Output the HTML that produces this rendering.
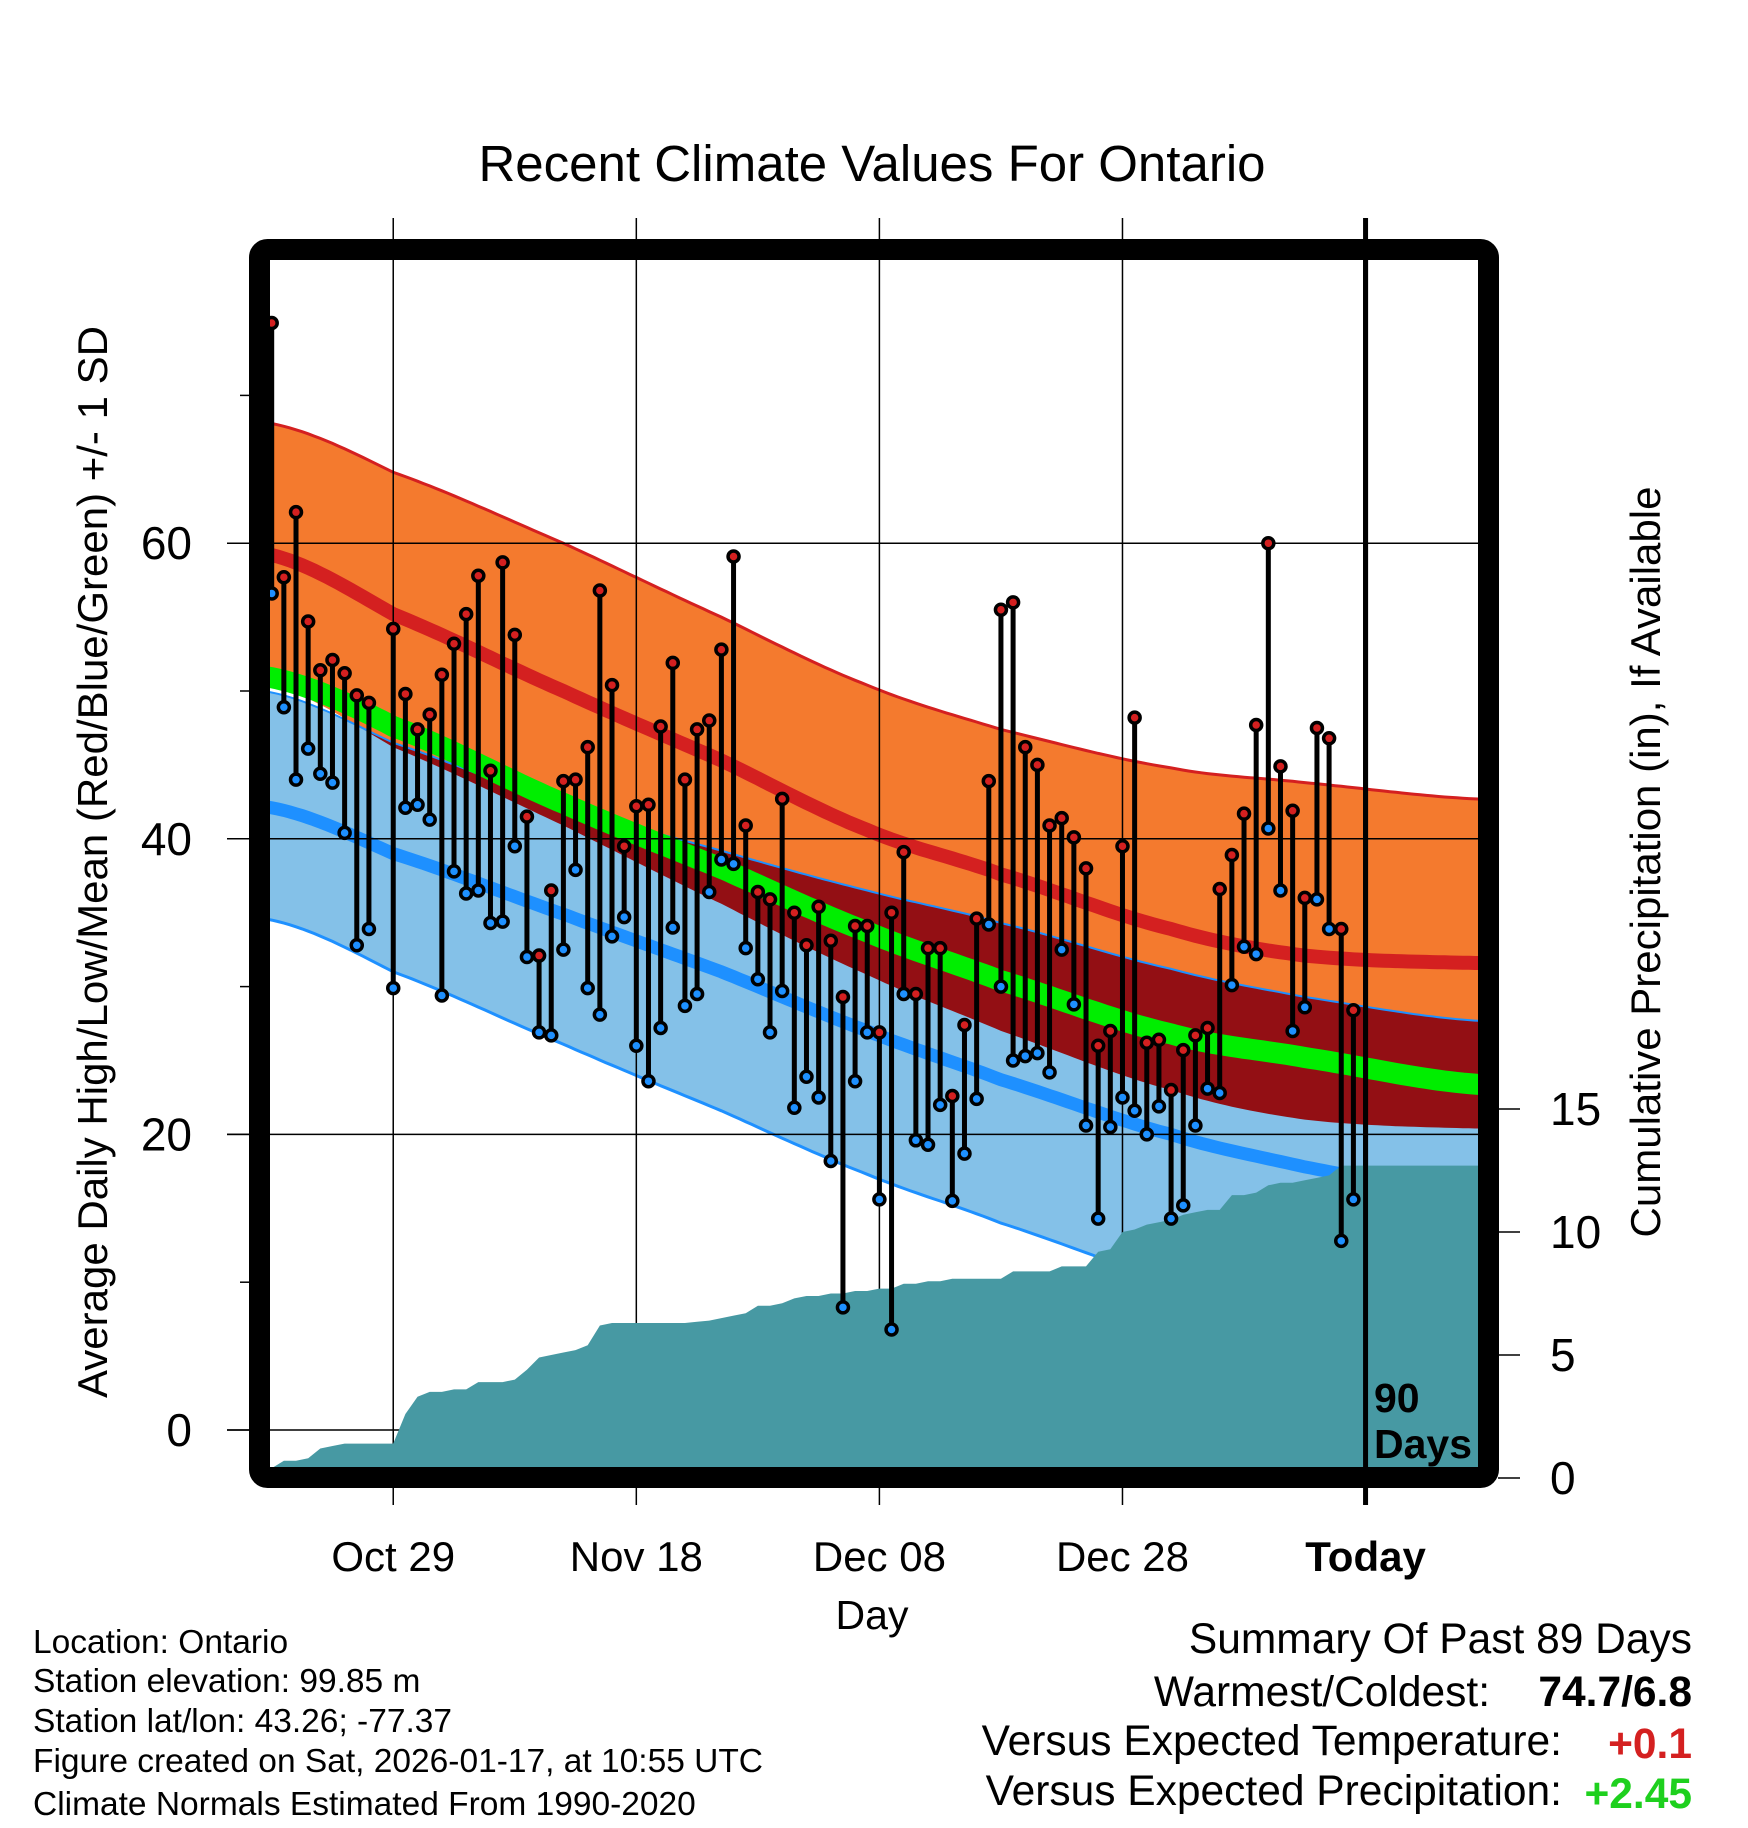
<!DOCTYPE html>
<html><head><meta charset="utf-8">
<style>
html,body{margin:0;padding:0;background:#fff;}
svg{display:block;font-family:"Liberation Sans",sans-serif;}
</style></head>
<body>
<svg id="chart" width="1748" height="1828" viewBox="0 0 1748 1828" xmlns="http://www.w3.org/2000/svg">
<defs><clipPath id="plotclip"><rect x="270" y="260" width="1208" height="1208"/></clipPath></defs>
<text x="872" y="181" font-size="51" text-anchor="middle">Recent Climate Values For Ontario</text>
<g id="bands" clip-path="url(#plotclip)"></g>
<g id="grid"></g>
<g id="precip" clip-path="url(#plotclip)"></g>
<g id="points" clip-path="url(#plotclip)"></g>
<rect x="259.5" y="249.5" width="1229" height="1228" rx="8" fill="none" stroke="#000" stroke-width="21"/>
<g id="axes"></g>
<text x="1374" y="1412" font-size="41" font-weight="bold">90</text>
<text x="1374" y="1458" font-size="41" font-weight="bold">Days</text>
<text transform="translate(107,862) rotate(-90)" font-size="42" text-anchor="middle">Average Daily High/Low/Mean (Red/Blue/Green) +/- 1 SD</text>
<text transform="translate(1660,862) rotate(-90)" font-size="42" text-anchor="middle">Cumulative Precipitation (in), If Available</text>
<text x="872" y="1629" font-size="41" text-anchor="middle">Day</text>
<g font-size="33.5">
<text x="33" y="1653">Location: Ontario</text>
<text x="33" y="1692">Station elevation: 99.85 m</text>
<text x="33" y="1732">Station lat/lon: 43.26; -77.37</text>
<text x="33" y="1772">Figure created on Sat, 2026-01-17, at 10:55 UTC</text>
<text x="33" y="1815">Climate Normals Estimated From 1990-2020</text>
</g>
<g font-size="42.5">
<text x="1692" y="1653" text-anchor="end">Summary Of Past 89 Days</text>
<text x="1490" y="1706" text-anchor="end">Warmest/Coldest:</text>
<text x="1692" y="1706" text-anchor="end" font-weight="bold">74.7/6.8</text>
<text x="1562" y="1755" text-anchor="end">Versus Expected Temperature:</text>
<text x="1692" y="1758" text-anchor="end" font-weight="bold" fill="#d42020">+0.1</text>
<text x="1562" y="1805" text-anchor="end">Versus Expected Precipitation:</text>
<text x="1692" y="1808" text-anchor="end" font-weight="bold" fill="#1ed01e">+2.45</text>
</g>
</svg>
<script>
const highs = [74.9,57.7,62.1,54.7,51.4,52.1,51.2,49.7,49.2,null,54.2,49.8,47.4,48.4,51.1,53.2,55.2,57.8,44.6,58.7,53.8,41.5,32.1,36.5,43.9,44.0,46.2,56.8,50.4,39.5,42.2,42.3,47.6,51.9,44.0,47.4,48.0,52.8,59.1,40.9,36.4,35.9,42.7,35.0,32.8,35.4,33.1,29.3,34.1,34.1,26.9,35.0,39.1,29.5,32.6,32.6,22.6,27.4,34.6,43.9,55.5,56.0,46.2,45.0,40.9,41.4,40.1,38.0,26.0,27.0,39.5,48.2,26.2,26.4,23.0,25.7,26.7,27.2,36.6,38.9,41.7,47.7,60.0,44.9,41.9,36.0,47.5,46.8,33.9,28.4];
const lows = [56.6,48.9,44.0,46.1,44.4,43.8,40.4,32.8,33.9,null,29.9,42.1,42.3,41.3,29.4,37.8,36.3,36.5,34.3,34.4,39.5,32.0,26.9,26.7,32.5,37.9,29.9,28.1,33.4,34.7,26.0,23.6,27.2,34.0,28.7,29.5,36.4,38.6,38.3,32.6,30.5,26.9,29.7,21.8,23.9,22.5,18.2,8.3,23.6,26.9,15.6,6.8,29.5,19.6,19.3,22.0,15.5,18.7,22.4,34.2,30.0,25.0,25.3,25.5,24.2,32.5,28.8,20.6,14.3,20.5,22.5,21.6,20.0,21.9,14.3,15.2,20.6,23.1,22.8,30.1,32.7,32.2,40.7,36.5,27.0,28.6,35.9,33.9,12.8,15.6];
const precip = [0.4,0.7,0.7,0.8,1.2,1.3,1.4,1.4,1.4,1.4,1.4,2.6,3.3,3.5,3.5,3.6,3.6,3.9,3.9,3.9,4.0,4.4,4.9,5.0,5.1,5.2,5.4,6.2,6.3,6.3,6.3,6.3,6.3,6.3,6.3,6.35,6.4,6.5,6.6,6.7,7.0,7.0,7.1,7.3,7.4,7.4,7.5,7.5,7.6,7.6,7.7,7.7,7.9,7.9,8.0,8.0,8.1,8.1,8.1,8.1,8.1,8.4,8.4,8.4,8.4,8.6,8.6,8.6,9.2,9.3,10.0,10.1,10.3,10.4,10.5,10.7,10.8,10.9,10.9,11.5,11.5,11.6,11.9,12.0,12.0,12.1,12.2,12.3,12.7,12.7];
const normDays = [0,10,24,37,49,60,74,85,99];
const hiPlus  = [68.1,64.8,60.0,55.0,50.4,47.4,44.8,43.8,42.7];
const hiMean  = [59.2,55.2,50.0,45.3,40.6,37.6,33.9,32.1,31.6];
const hiMinus = [50.4,46.2,40.9,35.6,30.8,27.0,23.0,21.0,20.4];
const meanT   = [50.9,47.6,42.4,38.0,33.7,30.4,26.8,25.2,23.4];
const loPlus  = [49.9,46.5,42.3,39.2,36.5,34.3,31.2,29.3,27.7];
const loMean  = [42.1,39.0,34.9,31.0,27.0,23.7,20.0,17.8,15.8];
const loMinus = [34.5,31.0,26.1,21.6,17.3,14.0,10.0,6.8,3.5];
const tempTicks = [0,20,40,60];
const tempMinor = [10,30,50,70];
const precipTicks = [0,5,10,15];
const dateTicks = [10,30,50,70,90];
const dateLabels = ["Oct 29","Nov 18","Dec 08","Dec 28","Today"];

const NS = "http://www.w3.org/2000/svg";
const xs = d => 271.7 + 12.154 * d;
const ys = t => 1430 - 14.78 * t;
const yp = p => 1478 - 24.6 * p;
function mk(tag, attrs, parent){const e=document.createElementNS(NS,tag);for(const k in attrs)e.setAttribute(k,attrs[k]);parent.appendChild(e);return e;}
function crv(vals, d){
  let k=0; while(k<normDays.length-2 && d>normDays[k+1]) k++;
  const t=(d-normDays[k])/(normDays[k+1]-normDays[k]);
  const p0=vals[Math.max(k-1,0)],p1=vals[k],p2=vals[k+1],p3=vals[Math.min(k+2,vals.length-1)];
  const t2=t*t,t3=t2*t;
  return 0.5*((2*p1)+(-p0+p2)*t+(2*p0-5*p1+4*p2-p3)*t2+(-p0+3*p1-3*p2+p3)*t3);
}
const sd=[];for(let d=-1;d<=100;d+=0.5)sd.push(d);
function linePts(vals){return sd.map(d=>xs(d).toFixed(1)+","+ys(crv(vals,d)).toFixed(1));}
function areaPts(top,botFn){const a=linePts(top);const b=sd.slice().reverse().map(d=>xs(d).toFixed(1)+","+ys(botFn(d)).toFixed(1));return a.concat(b).join(" ");}

const bands=document.getElementById("bands");
let e;
e=mk("polygon",{points:areaPts(hiPlus,d=>crv(hiMinus,d)),fill:"#f47a2e"},bands);


e=mk("polygon",{points:areaPts(loPlus,d=>crv(loMinus,d)),fill:"#84c1e8"},bands);


e=mk("polygon",{points:areaPts(loPlus,d=>Math.min(crv(hiMinus,d),crv(loPlus,d))),fill:"#930f14"},bands);


const lines=[[hiPlus,"#d42020",3,'high-plus-sd-line'],[loPlus,"#1e90ff",2,'low-plus-sd-line'],[loMinus,"#1e90ff",3,'low-minus-sd-line'],[hiMean,"#d42020",14,'normal-high-line'],[loMean,"#1e90ff",13,'normal-low-line'],[meanT,"#00ee00",21,'normal-mean-line']];
for(const [v,c,w,n] of lines){
  e=mk("polyline",{points:linePts(v).join(" "),fill:"none",stroke:c,"stroke-width":w},bands);
  
  
}

const grid=document.getElementById("grid");
for(const t of tempTicks){
  e=mk("line",{x1:227,x2:1489,y1:ys(t),y2:ys(t),stroke:"#000","stroke-width":1.5},grid);
  
  
}
dateTicks.forEach((d,i)=>{
  const today=i===dateTicks.length-1;
  e=mk("line",{x1:xs(d),x2:xs(d),y1:218,y2:1505,stroke:"#000","stroke-width":today?5:1.5},grid);
  
  
});

const pg=document.getElementById("precip");
let pp=[xs(0)+","+1480];
precip.forEach((p,i)=>{pp.push(xs(i).toFixed(1)+","+yp(p).toFixed(1));});
pp.push(xs(100)+","+yp(precip[precip.length-1]).toFixed(1));
pp.push(xs(100)+",1480");
e=mk("polygon",{points:pp.join(" "),fill:"#4799a3"},pg);


e=mk("line",{x1:xs(90),x2:xs(90),y1:250,y2:1480,stroke:"#000","stroke-width":5},pg);



const pts=document.getElementById("points");
highs.forEach((h,i)=>{
  const l=lows[i]; if(h==null||l==null) return;
  e=mk("line",{x1:xs(i),x2:xs(i),y1:ys(h),y2:ys(l),stroke:"#000","stroke-width":5},pts);
  
  
});
highs.forEach((h,i)=>{
  const l=lows[i]; if(h==null||l==null) return;
  e=mk("circle",{cx:xs(i),cy:ys(h),r:5.5,fill:"#d42020",stroke:"#000","stroke-width":3.5},pts);
  
  
  e=mk("circle",{cx:xs(i),cy:ys(l),r:5.5,fill:"#1e90ff",stroke:"#000","stroke-width":3.5},pts);
  
  
});

const ax=document.getElementById("axes");
for(const t of tempTicks){
  e=mk("line",{x1:227,x2:250,y1:ys(t),y2:ys(t),stroke:"#000","stroke-width":1.5},ax);
  
  
  e=mk("text",{x:192,y:ys(t)+16,"font-size":46,"text-anchor":"end"},ax);
  e.textContent=String(t);
  
  
}
for(const t of tempMinor){
  e=mk("line",{x1:240,x2:250,y1:ys(t),y2:ys(t),stroke:"#000","stroke-width":1.5},ax);
  
  
}
for(const p of precipTicks){
  e=mk("line",{x1:1498,x2:1520,y1:yp(p),y2:yp(p),stroke:"#000","stroke-width":1.5},ax);
  
  
  e=mk("text",{x:1550,y:yp(p)+16,"font-size":46},ax);
  e.textContent=String(p);
  
  
}
dateTicks.forEach((d,i)=>{
  e=mk("text",{x:xs(d),y:1571,"font-size":42,"text-anchor":"middle"},ax);
  if(i===dateTicks.length-1) e.setAttribute("font-weight","bold");
  e.textContent=dateLabels[i];
  
  
});
</script>
</body></html>
